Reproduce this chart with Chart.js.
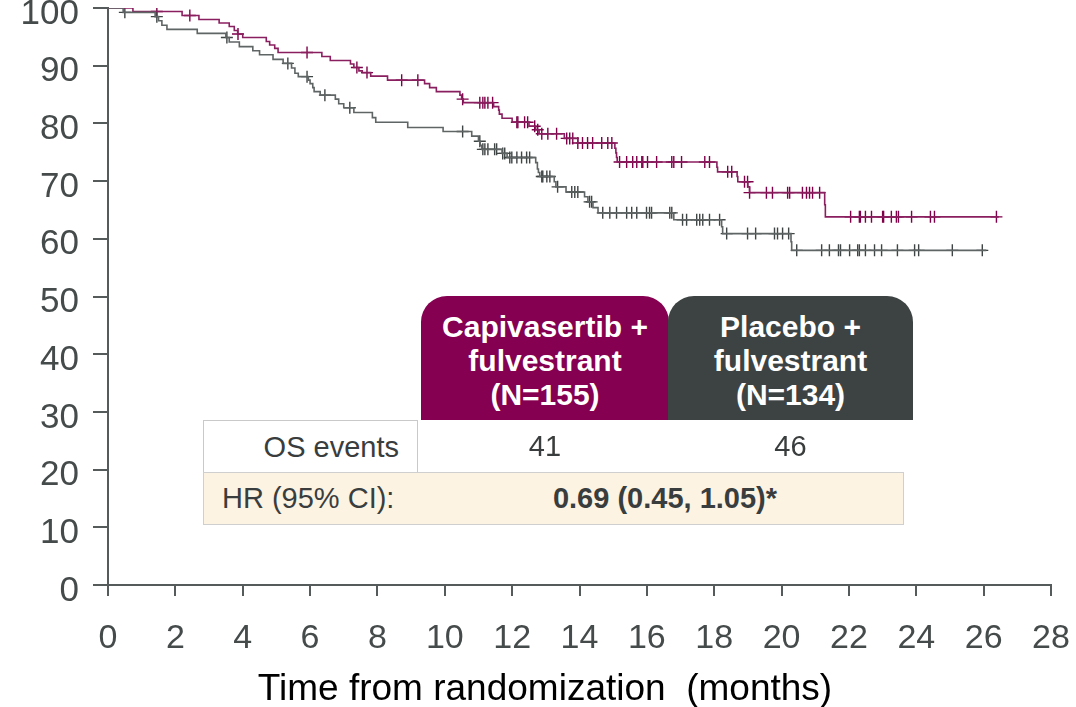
<!DOCTYPE html>
<html>
<head>
<meta charset="utf-8">
<script src="https://cdn.jsdelivr.net/npm/chart.js@4"></script>
<style>
  body { margin: 0; background: #fff; }
  #wrap { position: relative; width: 1076px; height: 707px; }
  .cell { position: absolute; box-sizing: border-box; font-family: "Liberation Sans Narrow", "Liberation Sans", Arial, sans-serif; color: #3a3d3d; }
  .hdr { color: #fff; font-weight: bold; text-align: center; font-size: 30px; line-height: 34px; padding-top: 14px; border-radius: 26px 26px 0 0; }
  #xtitle { position: absolute; left: 145px; width: 800px; top: 666px; text-align: center; font-family: "Liberation Sans", Arial, sans-serif; font-size: 37px; line-height: 44px; color: #000; white-space: pre; }
</style>
</head>
<body>
<div id="wrap">
  <canvas id="km" width="1076" height="707"></canvas>
  <div class="cell hdr" style="left:421px;top:296px;width:248px;height:124px;background:#850050;">Capivasertib +<br>fulvestrant<br>(N=155)</div>
  <div class="cell hdr" style="left:668px;top:296px;width:245px;height:124px;background:#3d4343;">Placebo +<br>fulvestrant<br>(N=134)</div>
  <div class="cell" style="left:203px;top:420px;width:215px;height:53px;border:1px solid #c9c9c9;border-bottom:none;background:#fff;text-align:right;padding-right:18px;font-size:29px;line-height:52px;">OS events</div>
  <div class="cell" style="left:421px;top:420px;width:248px;height:52px;text-align:center;font-size:29px;line-height:52px;">41</div>
  <div class="cell" style="left:668px;top:420px;width:245px;height:52px;text-align:center;font-size:29px;line-height:52px;">46</div>
  <div class="cell" style="left:203px;top:472px;width:701px;height:53px;border:1px solid #cfcfcf;background:#fcf3e3;font-size:29px;line-height:51px;">
    <span style="position:absolute;left:18px;">HR (95% CI):</span>
    <span style="position:absolute;left:345px;width:232px;text-align:center;font-weight:bold;">0.69 (0.45, 1.05)*</span>
  </div>
  <div id="xtitle"></div>
</div>
<script>
// Kaplan-Meier: Zeitpunkte (Monate) und Überlebensrate (%) nach jedem Schritt
const capiTime = [0, 0.74, 2.2, 2.7, 3.3, 3.6, 3.75, 3.85, 4.0, 4.7, 4.8, 4.95, 5.05, 6.35, 6.6, 7.2, 7.3, 7.45, 7.55, 7.8,
  8.3, 9.4, 9.55, 9.75, 10.45, 10.5, 10.55, 11.45, 11.6, 11.62, 11.7, 12.0, 12.5, 12.7, 12.8, 13.55, 13.95, 15.05, 15.08, 15.1,
  15.12, 18.08, 18.1, 18.68, 18.7, 19.0, 19.05, 21.28, 21.3, 26.45];
const capiSurv = [100, 99.4, 98.7, 98.0, 97.4, 96.8, 96.1, 95.5, 94.9, 94.2, 93.6, 93.0, 92.3, 91.6, 90.9, 90.3, 89.7, 89.1, 88.8, 88.2,
  87.5, 86.9, 86.2, 85.5, 84.9, 84.2, 83.6, 82.9, 82.3, 81.6, 80.9, 80.2, 79.5, 78.9, 78.2, 77.4, 76.6, 75.7, 74.9, 74.1,
  73.3, 72.4, 71.6, 70.8, 69.9, 69.0, 68.0, 65.9, 63.8, 63.8];
const capiCensor = [1.45, 2.43, 3.86, 5.91, 7.39, 7.69, 8.72, 9.2, 10.53, 11.04, 11.13, 11.19, 11.28, 11.42, 12.14, 12.17, 12.37, 12.46,
  12.67, 12.76, 12.88, 13.06, 13.32, 13.62, 13.71, 13.8, 13.95, 14.09, 14.24, 14.39, 14.66, 14.84, 14.96, 15.19, 15.4, 15.58, 15.7,
  15.85, 15.88, 16.02, 16.29, 16.74, 16.8, 17.03, 17.72, 17.86, 18.4, 18.52, 18.9, 18.99, 19.05, 19.55, 19.73, 20.18, 20.24, 20.62,
  20.74, 20.83, 20.92, 21.13, 22.05, 22.31, 22.34, 22.49, 22.67, 23.0, 23.03, 23.26, 23.41, 23.47, 23.86, 24.42, 24.54, 26.38];

const placTime = [0, 0.45, 1.4, 1.5, 1.6, 1.75, 2.65, 3.5, 3.6, 3.9, 4.3, 4.5, 4.9, 5.2, 5.45, 5.55, 5.65, 5.95, 6.0, 6.08,
  6.12, 6.3, 6.75, 6.85, 7.0, 7.3, 7.85, 7.95, 8.9, 9.95, 10.8, 11.0, 11.05, 11.1, 11.7, 11.85, 12.7, 12.75, 12.78, 12.82,
  13.25, 13.3, 13.6, 14.15, 14.25, 14.4, 14.55, 16.8, 18.22, 18.25, 20.28, 20.3, 26.08];
const placSurv = [100, 99.25, 98.5, 97.8, 97.0, 96.3, 95.6, 94.9, 94.1, 93.3, 92.6, 91.9, 91.1, 90.4, 89.6, 88.7, 88.1, 87.5, 86.9, 86.2,
  85.5, 84.9, 84.2, 83.4, 82.7, 81.9, 81.0, 80.2, 79.3, 78.6, 77.8, 76.9, 76.2, 75.5, 74.8, 74.1, 73.2, 72.1, 71.5, 70.8,
  69.9, 69.0, 68.1, 67.3, 66.4, 65.4, 64.5, 63.3, 62.1, 60.9, 59.5, 58.0, 58.0];
const placCensor = [0.5, 1.45, 3.53, 5.34, 5.91, 6.44, 7.18, 10.53, 11.04, 11.13, 11.19, 11.28, 11.48, 11.54, 11.72, 11.78, 11.93, 11.99,
  12.14, 12.28, 12.43, 12.52, 12.88, 12.91, 13.03, 13.12, 13.35, 13.77, 13.86, 13.95, 14.3, 14.36, 14.69, 14.9, 15.1, 15.4, 15.55,
  15.7, 15.99, 16.08, 16.14, 16.68, 16.74, 17.06, 17.18, 17.48, 17.57, 17.66, 17.86, 18.16, 18.37, 18.99, 19.23, 19.79, 19.88,
  20.03, 20.21, 20.45, 21.19, 21.42, 21.69, 21.75, 22.02, 22.26, 22.31, 22.49, 22.76, 22.97, 23.44, 23.95, 24.07, 25.07, 25.96];

const xTicks = [0, 2, 4, 6, 8, 10, 12, 14, 16, 18, 20, 22, 24, 26, 28];
const yTicks = [0, 10, 20, 30, 40, 50, 60, 70, 80, 90, 100];
const xTitle = 'Time from randomization  (months)';

const purple = '#8a1f60';
const grey = '#5f6464';
const axisColor = '#555a5a';
const labelColor = '#454a4a';

document.getElementById('xtitle').textContent = xTitle;

// Kurvenwert zu einem Zeitpunkt (für die Zensierungsmarken)
function survAt(times, surv, t) {
  let s = surv[0];
  for (let i = 0; i < times.length; i++) {
    if (times[i] <= t) s = surv[i];
  }
  return s;
}

const toPoints = (times, surv) => times.map((t, i) => ({ x: t, y: surv[i] }));
const censorPoints = (cens, times, surv) => cens.map(t => ({ x: t, y: survAt(times, surv, t) }));

const ctx = document.getElementById('km').getContext('2d');
new Chart(ctx, {
  type: 'scatter',
  data: {
    datasets: [
      { data: toPoints(placTime, placSurv), showLine: true, stepped: 'before', borderColor: grey, borderWidth: 1.6, pointRadius: 0 },
      { data: toPoints(capiTime, capiSurv), showLine: true, stepped: 'before', borderColor: purple, borderWidth: 1.6, pointRadius: 0 },
      { data: censorPoints(placCensor, placTime, placSurv), pointStyle: 'cross', pointRadius: 6, borderColor: '#3f4444', borderWidth: 1.4 },
      { data: censorPoints(capiCensor, capiTime, capiSurv), pointStyle: 'cross', pointRadius: 6, borderColor: '#7d0049', borderWidth: 1.4 }
    ]
  },
  options: {
    responsive: false,
    animation: false,
    layout: { padding: { top: 8, right: 25, left: 0, bottom: 0 } },
    plugins: { legend: { display: false }, tooltip: { enabled: false } },
    scales: {
      x: {
        type: 'linear', min: 0, max: 28,
        afterBuildTicks: s => { s.ticks = xTicks.map(v => ({ value: v })); },
        afterFit: s => { s.height = 122; s.paddingLeft = 0; s.paddingRight = 0; },
        ticks: { font: { family: 'Liberation Sans, Arial, sans-serif', size: 34 }, color: labelColor, padding: 22, maxRotation: 0 },
        grid: { drawOnChartArea: false, drawTicks: true, tickLength: 11, color: axisColor, lineWidth: 2 },
        border: { display: true, color: axisColor, width: 2 }
      },
      y: {
        min: 0, max: 100,
        afterBuildTicks: s => { s.ticks = yTicks.map(v => ({ value: v })); },
        afterFit: s => { s.width = 108; s.paddingTop = 0; s.paddingBottom = 0; },
        ticks: { font: { family: 'Liberation Sans, Arial, sans-serif', size: 35 }, color: labelColor, padding: 14, labelOffset: 6 },
        grid: { drawOnChartArea: false, drawTicks: true, tickLength: 15, color: axisColor, lineWidth: 2 },
        border: { display: true, color: axisColor, width: 2 }
      }
    }
  }
});
</script>
</body>
</html>
